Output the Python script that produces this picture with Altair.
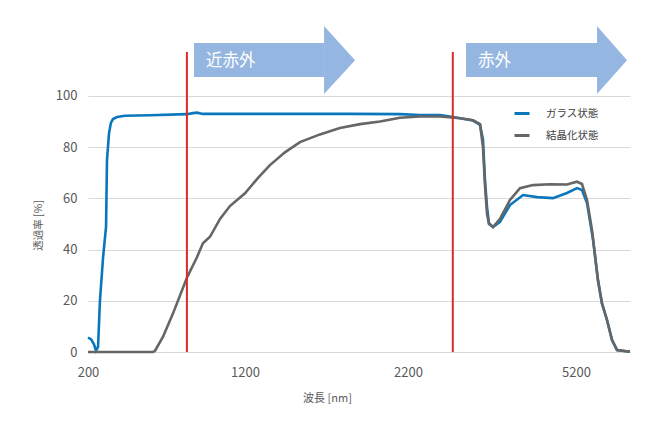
import altair as alt
import pandas as pd

FONT = "Noto Sans CJK JP"

series_names = ["ガラス状態", "結晶化状態"]
series_colors = ["#0a77bd", "#666666"]

glass_wl = [200, 219, 238, 251, 264, 276, 296, 315, 321, 334, 346, 359, 385, 436, 595,
            830, 869, 894, 932, 1231, 1537, 1844, 2151, 2414, 2771, 3004, 3361, 3486,
            3539, 3575, 3611, 3646, 3718, 3843, 4021, 4254, 4504, 4789, 5039, 5219,
            5311, 5404, 5515, 5607, 5681, 5774, 5867, 5959, 6200]
glass_t = [5.6, 5.0, 3.0, 0.5, 2.0, 20.0, 37.0, 49.0, 75.0, 85.5, 89.5, 91.0, 91.8, 92.3, 92.5,
           92.9, 93.3, 93.5, 93.0, 93.0, 93.0, 93.0, 92.9, 92.6, 92.6, 91.8, 90.4, 88.7,
           83.0, 67.0, 56.6, 50.3, 48.8, 50.8, 57.4, 61.3, 60.5, 60.1, 62.1, 64.0,
           63.3, 58.2, 44.0, 28.0, 19.0, 12.5, 4.7, 0.8, 0.1]

cryst_wl = [200, 614, 627, 678, 741, 830, 894, 932, 977, 1041, 1104, 1200, 1280, 1353,
            1445, 1537, 1660, 1782, 1906, 2028, 2151, 2414, 2771, 3129, 3361, 3486, 3539,
            3575, 3611, 3646, 3718, 3843, 4021, 4200, 4432, 4736, 5039, 5219, 5311, 5404,
            5496, 5607, 5681, 5774, 5867, 5959, 6200]
cryst_t = [0.0, 0.0, 0.5, 6.0, 15.0, 29.0, 37.0, 42.5, 45.0, 52.0, 57.0, 62.0, 68.0, 73.0,
           78.0, 82.0, 85.0, 87.5, 89.0, 90.0, 91.5, 92.0, 92.0, 91.3, 90.5, 89.0, 80.0,
           65.0, 54.0, 50.0, 48.8, 52.0, 59.4, 64.0, 65.2, 65.5, 65.4, 66.5, 65.6, 59.4,
           47.7, 28.0, 19.0, 12.5, 4.7, 0.8, 0.1]

x_ticks = [200, 1200, 2200, 5200]
y_ticks = [0, 20, 40, 60, 80, 100]

# region annotations (wavelength, percent units)
region_lines = [830, 3000]
region_line_top = 117.2
region_labels = ["近赤外", "赤外"]
label_start = [952, 3450]
label_y = 113.8
arrow_body_start = [875, 3236]
arrow_body_end = [1685, 5589]
arrow_tip = [1875, 6144]
body_low, body_high = 107.4, 120.7
head_low, head_high, head_mid = 100.8, 127.3, 114.0

lines_df = pd.concat([
    pd.DataFrame({"wl": glass_wl, "t": glass_t, "series": series_names[0], "k": 0}),
    pd.DataFrame({"wl": cryst_wl, "t": cryst_t, "series": series_names[1], "k": 1}),
])

rule_df = pd.DataFrame({"wl": region_lines, "t": [0, 0], "t2": [region_line_top] * 2})
body_df = pd.DataFrame({"wl": arrow_body_start, "wl2": arrow_body_end,
                        "t": [body_low] * 2, "t2": [body_high] * 2})
head_rows = []
for i in range(2):
    head_rows.append({"a": i, "wl": arrow_body_end[i], "t": head_low, "t2": head_high})
    head_rows.append({"a": i, "wl": arrow_tip[i], "t": head_mid, "t2": head_mid})
head_df = pd.DataFrame(head_rows)
label_df = pd.DataFrame({"wl": label_start, "t": [label_y] * 2, "txt": region_labels})

xscale = alt.Scale(domain=[200, 1200, 2200, 5200, 6200], range=[0, 157, 320, 488, 542],
                   nice=False, zero=False)
yscale = alt.Scale(domain=[0, 128.9], nice=False, zero=True)

xaxis = alt.Axis(values=x_ticks, format="d", grid=False, ticks=False,
                 domainColor="#d9d9d9", labelFontSize=13, labelColor="#595959",
                 labelPadding=14, labelFont=FONT, labelFlush=False,
                 title="波長 [nm]", titleFont=FONT, titleFontSize=11,
                 titleFontWeight="normal", titleColor="#595959",
                 titleX=239, titleY=46, titleAlign="center", titleBaseline="middle")
yaxis = alt.Axis(values=y_ticks, grid=True, gridColor="#d9d9d9", domain=False,
                 ticks=False, labelFontSize=13, labelColor="#595959", labelPadding=11,
                 labelFont=FONT,
                 title="透過率 [%]", titleFont=FONT, titleFontSize=10.5,
                 titleFontWeight="normal", titleColor="#595959", titleAngle=270,
                 titleX=-50, titleY=203, titleAlign="center", titleBaseline="middle")

X = alt.X("wl:Q", scale=xscale, axis=xaxis)
Y = alt.Y("t:Q", scale=yscale, axis=yaxis)

lines = alt.Chart(lines_df).mark_line(strokeWidth=2.6).encode(
    x=X, y=Y,
    color=alt.Color("series:N",
                    scale=alt.Scale(domain=series_names, range=series_colors),
                    legend=alt.Legend(orient="none", legendX=425, legendY=82.5,
                                      title=None, symbolType="stroke", symbolSize=225,
                                      symbolStrokeWidth=3, labelFontSize=10.5,
                                      labelFont=FONT, labelColor="#404040",
                                      labelOffset=15, rowPadding=7, padding=0)),
    order=alt.Order("k:Q"),
)

rules = alt.Chart(rule_df).mark_rule(color="#dc2a26", strokeWidth=2).encode(
    x=X, y=Y, y2="t2:Q")

bodies = alt.Chart(body_df).mark_rect(color="#94b6e0").encode(
    x=X, x2="wl2:Q", y=Y, y2="t2:Q")

heads = alt.Chart(head_df).mark_area(color="#94b6e0", opacity=1).encode(
    x=X, y=Y, y2="t2:Q", detail="a:N")

labels = alt.Chart(label_df).mark_text(align="left", baseline="middle", color="white",
                                       fontSize=16.5, font=FONT).encode(
    x=X, y=Y, text="txt:N")

chart = alt.layer(bodies, heads, labels, lines, rules).properties(
    width=542, height=330,
    autosize=alt.AutoSizeParams(type="none"),
    padding={"left": 80, "top": 14, "right": 29, "bottom": 61},
).configure(font=FONT, view=alt.ViewConfig(stroke=None))

chart.save("out.html", embed_options={"renderer": "svg", "actions": False})
